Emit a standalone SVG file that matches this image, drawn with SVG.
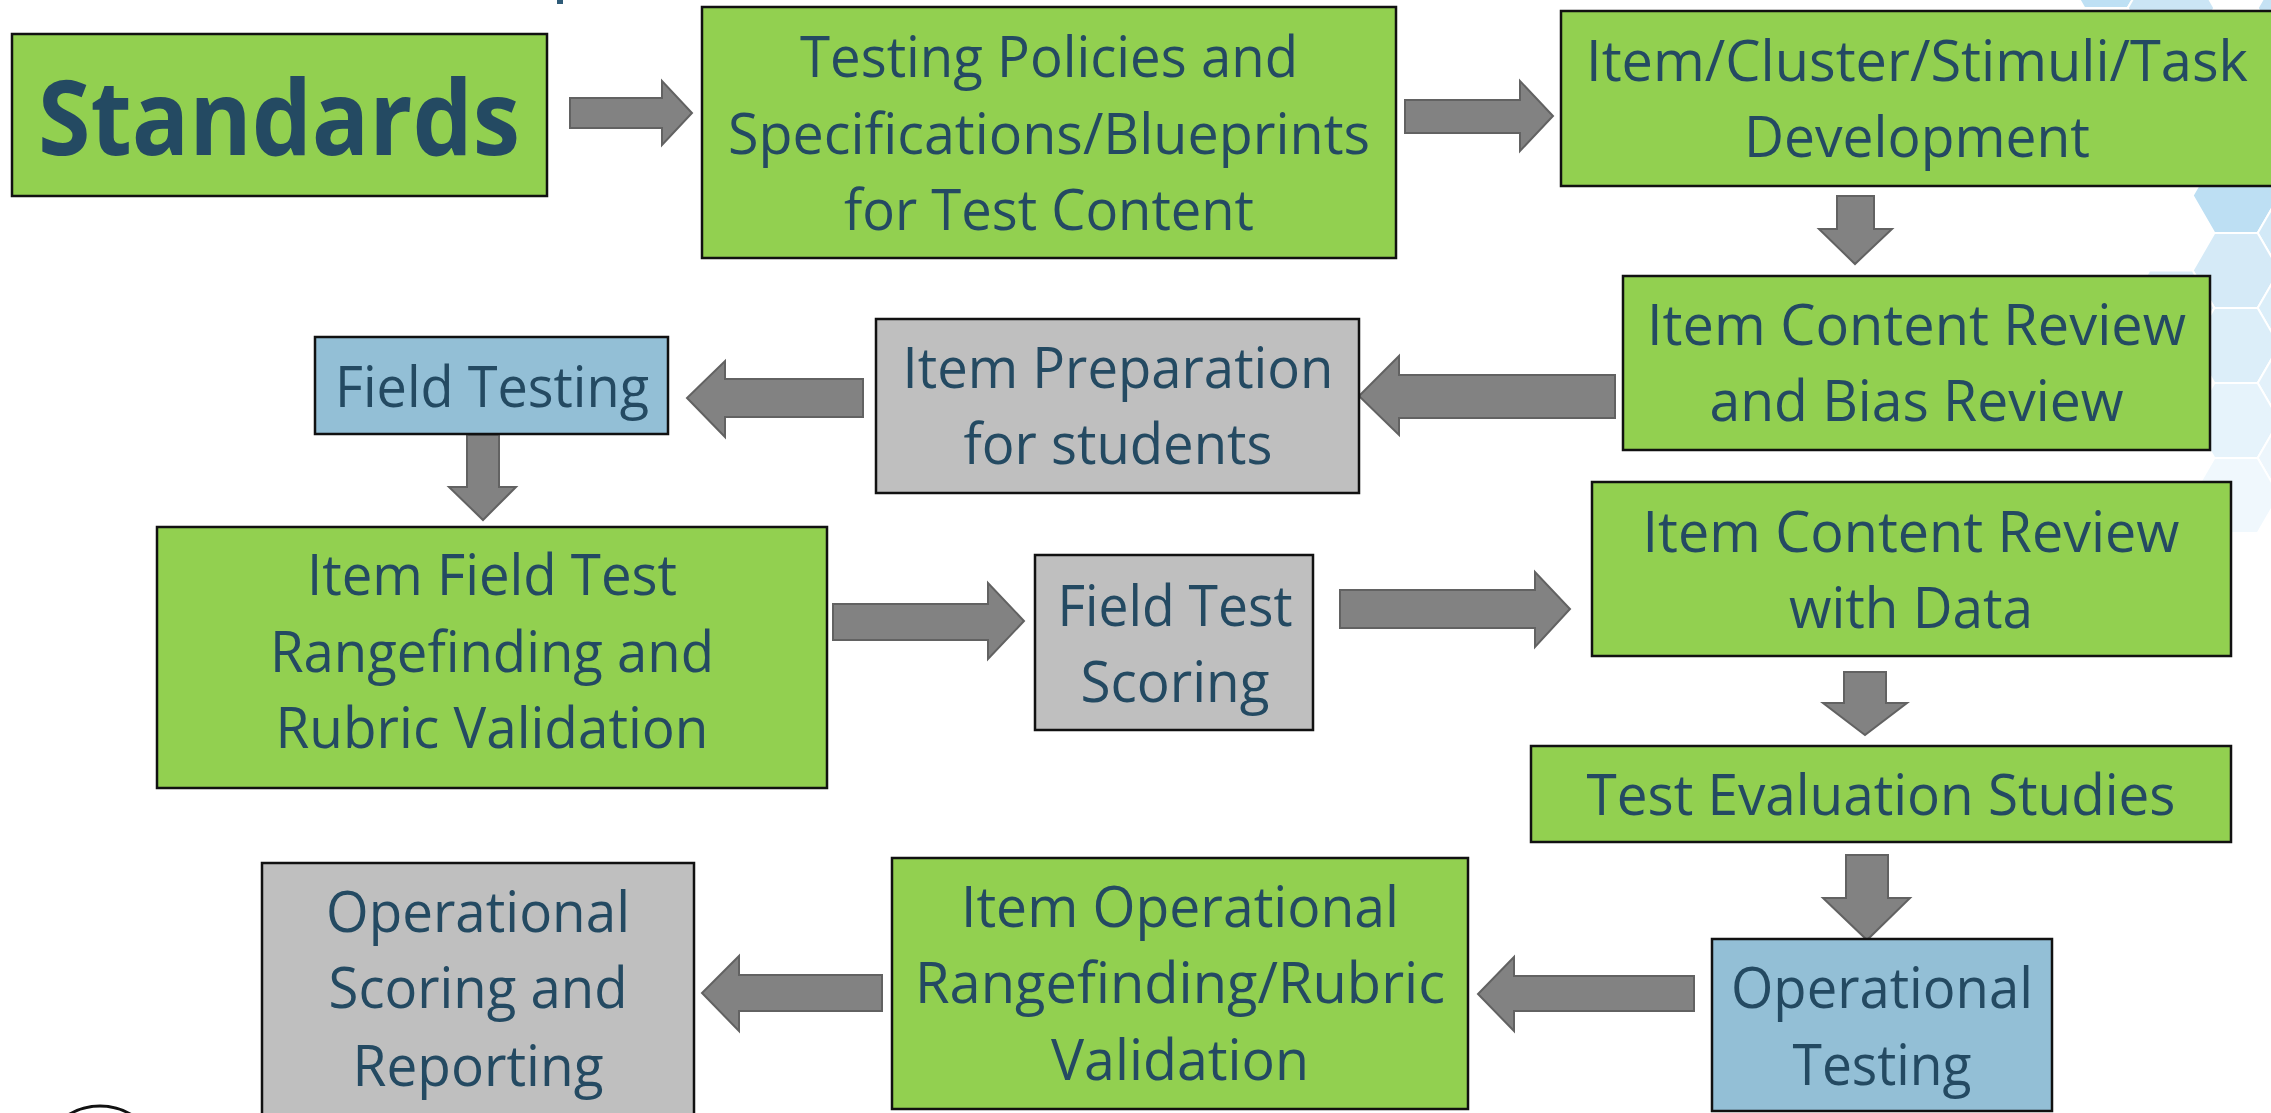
<svg xmlns="http://www.w3.org/2000/svg" width="2271" height="1113" viewBox="0 0 2271 1113">
<style>
.box{stroke:#111;stroke-width:2.5}
.g{fill:#92D050}
.gr{fill:#BFBFBF}
.bl{fill:#93BFD6}
.t{font-family:"Open Sans","Noto Sans","DejaVu Sans",sans-serif;font-size:56px;fill:#244A62;text-anchor:middle}
.tb{font-family:"Open Sans","Noto Sans","DejaVu Sans",sans-serif;font-weight:bold;font-size:104px;fill:#244A62;text-anchor:middle}
.arr{fill:#828282;stroke:#626262;stroke-width:2;stroke-linejoin:miter}
.hex{stroke:#fff;stroke-width:2}
</style>
<defs>
<path id="hx" d="M-43.3,0 L-21.65,-37.5 L21.65,-37.5 L43.3,0 L21.65,37.5 L-21.65,37.5 Z"/>
</defs>
<rect width="2271" height="1113" fill="#fff"/>
<g id="background">
<use href="#hx" class="hex" x="2106" y="-29.5" fill="#BEE0F4"/>
<use href="#hx" class="hex" x="2171" y="8" fill="#CBE5F5"/>
<use href="#hx" class="hex" x="2301" y="8" fill="#C5E2F4"/>
<use href="#hx" class="hex" x="2301" y="158" fill="#CFE8F6"/>
<use href="#hx" class="hex" x="2236" y="195.5" fill="#BDDFF3"/>
<use href="#hx" class="hex" x="2301" y="233" fill="#D2E9F7"/>
<use href="#hx" class="hex" x="2236" y="270.5" fill="#D5EAF7"/>
<use href="#hx" class="hex" x="2171" y="308" fill="#DAEDF8"/>
<use href="#hx" class="hex" x="2301" y="308" fill="#DBEEF9"/>
<use href="#hx" class="hex" x="2236" y="345.5" fill="#DCEEF9"/>
<use href="#hx" class="hex" x="2301" y="383" fill="#E3F1FA"/>
<use href="#hx" class="hex" x="2236" y="420.5" fill="#E6F3FB"/>
<use href="#hx" class="hex" x="2301" y="458" fill="#EDF6FC"/>
<use href="#hx" class="hex" x="2236" y="495.5" fill="#F0F8FD"/>
<rect x="557" y="0" width="6" height="4" fill="#2E5B78"/>
<circle cx="100" cy="1166" r="60" fill="none" stroke="#111" stroke-width="3"/>
</g>
<g id="connectors">
<polygon class="arr" points="570,98 662,98 662,81 692,113 662,145 662,128 570,128"/>
<polygon class="arr" points="1405,100 1520,100 1520,81 1553,116 1520,151 1520,133 1405,133"/>
<polygon class="arr" points="1837,196 1874,196 1874,229 1892,229 1855,264 1819,229 1837,229"/>
<polygon class="arr" points="1615,375 1399,375 1399,356 1359,396 1399,435 1399,418 1615,418"/>
<polygon class="arr" points="863,379 725,379 725,361 687,398 725,437 725,417 863,417"/>
<polygon class="arr" points="467,435 499,435 499,487 516,487 483,520 449,487 467,487"/>
<polygon class="arr" points="833,604 988,604 988,583 1024,621 988,659 988,640 833,640"/>
<polygon class="arr" points="1340,590 1535,590 1535,572 1570,609 1535,647 1535,628 1340,628"/>
<polygon class="arr" points="1844,672 1886,672 1886,703 1907,703 1865,735 1823,703 1844,703"/>
<polygon class="arr" points="1846,855 1888,855 1888,898 1910,898 1867,940 1823,898 1846,898"/>
<polygon class="arr" points="1694,976 1514,976 1514,957 1478,994 1514,1031 1514,1011 1694,1011"/>
<polygon class="arr" points="882,975 739,975 739,956 702,993 739,1031 739,1011 882,1011"/>
</g>
<g id="n-standards">
<rect class="box g" x="12" y="34" width="535" height="162"/>
<text class="tb" x="279" y="155" textLength="482" lengthAdjust="spacingAndGlyphs">Standards</text>
</g>
<g id="n-policies">
<rect class="box g" x="702" y="7" width="694" height="251"/>
<text class="t" x="1049" y="77" textLength="498" lengthAdjust="spacingAndGlyphs">Testing Policies and</text>
<text class="t" x="1049" y="154" textLength="642" lengthAdjust="spacingAndGlyphs">Specifications/Blueprints</text>
<text class="t" x="1049" y="230" textLength="410" lengthAdjust="spacingAndGlyphs">for Test Content</text>
</g>
<g id="n-development">
<rect class="box g" x="1561" y="11" width="714" height="175"/>
<text class="t" x="1917" y="81" textLength="662" lengthAdjust="spacingAndGlyphs">Item/Cluster/Stimuli/Task</text>
<text class="t" x="1917" y="157" textLength="346" lengthAdjust="spacingAndGlyphs">Development</text>
</g>
<g id="n-content-bias">
<rect class="box g" x="1623" y="276" width="587" height="174"/>
<text class="t" x="1916.5" y="345" textLength="539" lengthAdjust="spacingAndGlyphs">Item Content Review</text>
<text class="t" x="1916.5" y="421" textLength="414" lengthAdjust="spacingAndGlyphs">and Bias Review</text>
</g>
<g id="n-preparation">
<rect class="box gr" x="876" y="319" width="483" height="174"/>
<text class="t" x="1118" y="388" textLength="431" lengthAdjust="spacingAndGlyphs">Item Preparation</text>
<text class="t" x="1118" y="464" textLength="309" lengthAdjust="spacingAndGlyphs">for students</text>
</g>
<g id="n-field-testing">
<rect class="box bl" x="315" y="337" width="353" height="97"/>
<text class="t" x="492" y="407" textLength="314" lengthAdjust="spacingAndGlyphs">Field Testing</text>
</g>
<g id="n-ft-rangefinding">
<rect class="box g" x="157" y="527" width="670" height="261"/>
<text class="t" x="492" y="595" textLength="370" lengthAdjust="spacingAndGlyphs">Item Field Test</text>
<text class="t" x="492" y="672" textLength="444" lengthAdjust="spacingAndGlyphs">Rangefinding and</text>
<text class="t" x="492" y="748" textLength="433" lengthAdjust="spacingAndGlyphs">Rubric Validation</text>
</g>
<g id="n-ft-scoring">
<rect class="box gr" x="1035" y="555" width="278" height="175"/>
<text class="t" x="1175" y="626" textLength="235" lengthAdjust="spacingAndGlyphs">Field Test</text>
<text class="t" x="1175" y="702" textLength="189" lengthAdjust="spacingAndGlyphs">Scoring</text>
</g>
<g id="n-content-data">
<rect class="box g" x="1592" y="482" width="639" height="174"/>
<text class="t" x="1911" y="552" textLength="537" lengthAdjust="spacingAndGlyphs">Item Content Review</text>
<text class="t" x="1911" y="628" textLength="244" lengthAdjust="spacingAndGlyphs">with Data</text>
</g>
<g id="n-evaluation">
<rect class="box g" x="1531" y="746" width="700" height="96"/>
<text class="t" x="1881" y="815" textLength="589" lengthAdjust="spacingAndGlyphs">Test Evaluation Studies</text>
</g>
<g id="n-operational-testing">
<rect class="box bl" x="1712" y="939" width="340" height="172"/>
<text class="t" x="1882" y="1008" textLength="302" lengthAdjust="spacingAndGlyphs">Operational</text>
<text class="t" x="1882" y="1085" textLength="179" lengthAdjust="spacingAndGlyphs">Testing</text>
</g>
<g id="n-op-rangefinding">
<rect class="box g" x="892" y="858" width="576" height="251"/>
<text class="t" x="1180" y="927" textLength="438" lengthAdjust="spacingAndGlyphs">Item Operational</text>
<text class="t" x="1180" y="1003" textLength="530" lengthAdjust="spacingAndGlyphs">Rangefinding/Rubric</text>
<text class="t" x="1180" y="1080" textLength="258" lengthAdjust="spacingAndGlyphs">Validation</text>
</g>
<g id="n-op-scoring">
<rect class="box gr" x="262" y="863" width="432" height="260"/>
<text class="t" x="478" y="932" textLength="304" lengthAdjust="spacingAndGlyphs">Operational</text>
<text class="t" x="478" y="1008" textLength="299" lengthAdjust="spacingAndGlyphs">Scoring and</text>
<text class="t" x="478" y="1086" textLength="251" lengthAdjust="spacingAndGlyphs">Reporting</text>
</g>
</svg>
